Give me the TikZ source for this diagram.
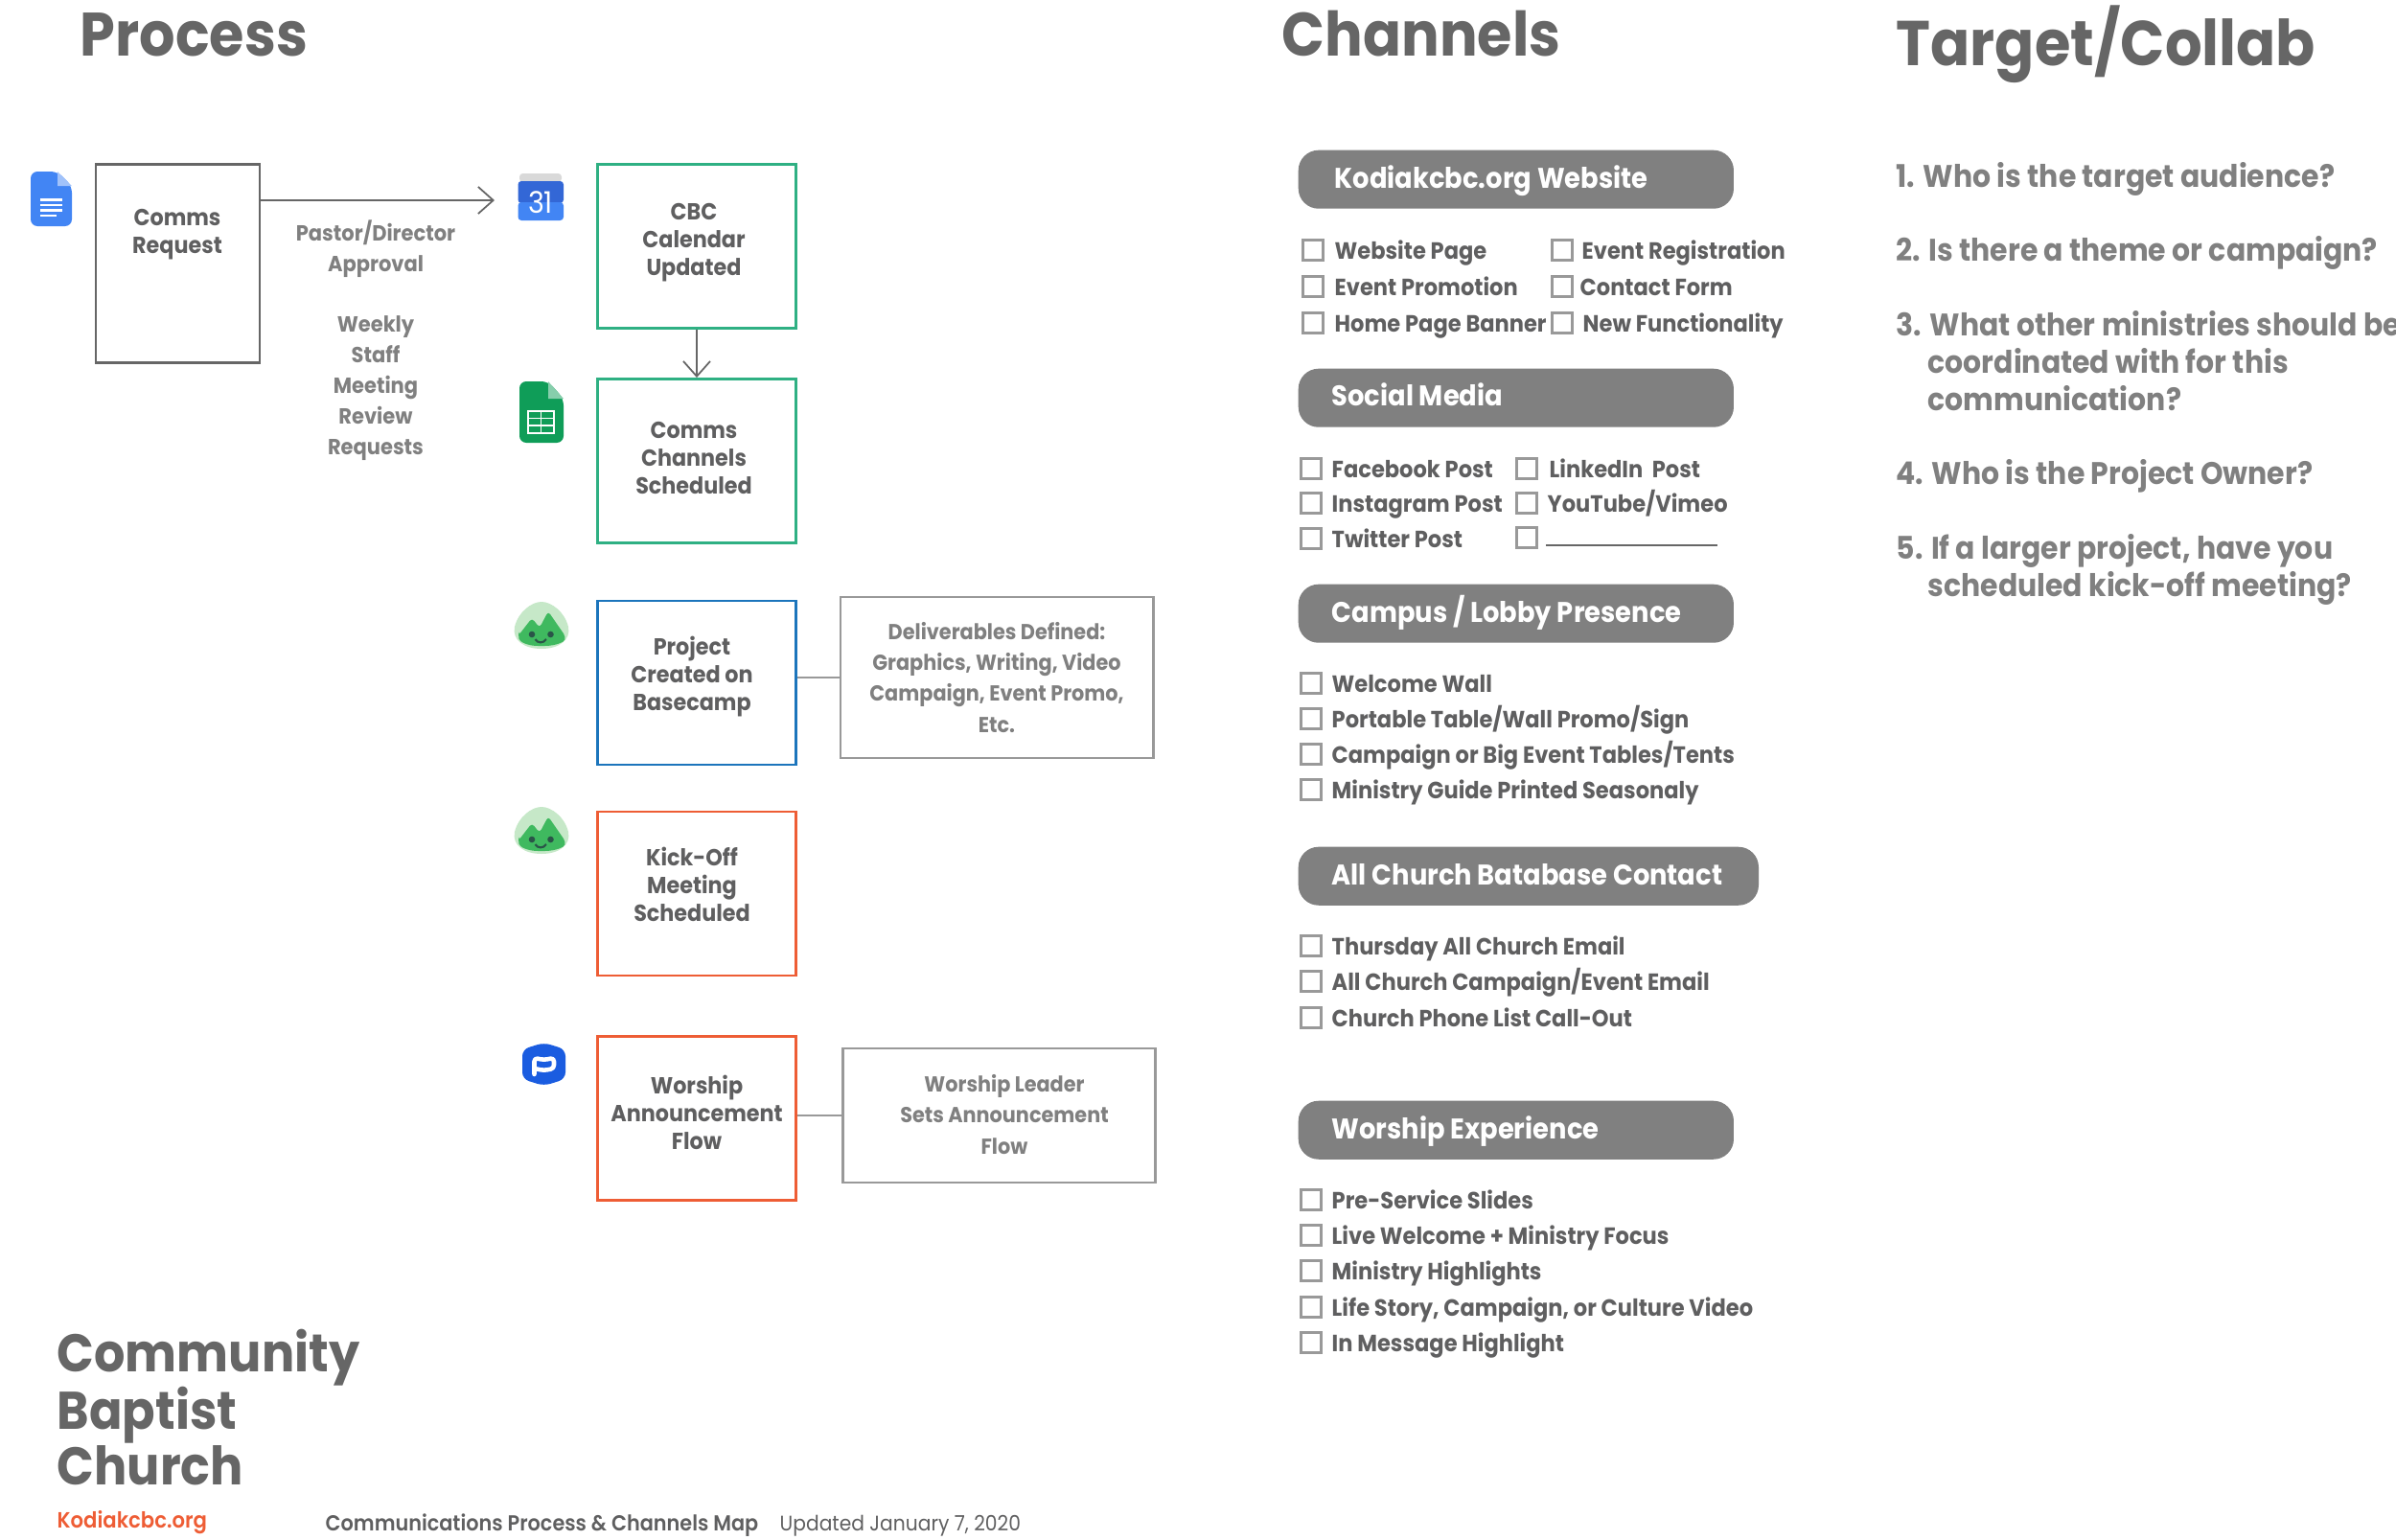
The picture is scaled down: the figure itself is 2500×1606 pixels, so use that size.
\documentclass[tikz,border=0pt]{standalone}
\usepackage{fontspec}
\setmainfont{Poppins}[BoldFont={Poppins SemiBold},FakeStretch=0.92]
\newfontfamily\hvy{Poppins}[BoldFont={Poppins Bold},FakeStretch=0.92]
\usetikzlibrary{arrows.meta}
\definecolor{dk}{HTML}{666666}
\definecolor{md}{HTML}{808080}
\definecolor{lg}{HTML}{999999}
\definecolor{txt}{HTML}{5F5F60}
\definecolor{grn}{HTML}{2FB083}
\definecolor{blu}{HTML}{1C75BC}
\definecolor{org}{HTML}{EE5D35}
\definecolor{bcl}{HTML}{C6E8C8}
\definecolor{bcm}{HTML}{3FB95F}
\definecolor{bcf}{HTML}{2A5548}
\definecolor{gdoc}{HTML}{4285F4}
\definecolor{gdocl}{HTML}{A1C2FA}
\definecolor{gcald}{HTML}{3367D6}
\definecolor{gsh}{HTML}{0F9D58}
\definecolor{gshl}{HTML}{87CEAC}
\definecolor{pcb}{HTML}{1A5CE0}
\newdimen\pxu \pxu=0.28453pt
\newcommand{\fpx}[2]{\fontsize{#1\pxu}{#2\pxu}\selectfont}
\tikzset{
 x=0.01cm,y=-0.01cm,
 boxa/.style={draw=#1,line width=0.8pt,inner sep=0pt,fill=white},
 lab/.style={inner sep=0pt,align=center,text=txt,font=\hvy\fpx{24.2}{29}\bfseries,anchor=center},
 side/.style={inner sep=0pt,align=center,text=md,font=\hvy\fpx{22.8}{32}\bfseries,anchor=center},
 head/.style={inner sep=0pt,anchor=base west,text=dk,font=\hvy\fpx{64}{70}\bfseries},
 pillbox/.style={fill=md,rounded corners=6pt,inner sep=0pt,anchor=north west},
 pilltext/.style={inner sep=0pt,anchor=base west,text=white,font=\hvy\fpx{29.7}{33}\bfseries},
 chk/.style={draw=lg,line width=0.7pt,minimum width=0.21cm,minimum height=0.21cm,inner sep=0pt},
 item/.style={inner sep=0pt,anchor=base west,text=txt,font=\hvy\fpx{24.5}{29}\bfseries},
 tgt/.style={inner sep=0pt,anchor=base west,text=md,font=\hvy\fpx{32.5}{38}\bfseries},
 conn/.style={draw=dk,line width=0.6pt},
 connl/.style={draw=lg,line width=0.7pt},
 tip/.style={-{Straight Barb[length=4.5pt,width=8pt,line width=0.5pt]}},
 bcamp/.pic={
  \fill[bcl] (0,26) .. controls (4,10) and (18,0) .. (28,0) .. controls (38,0) and (52,10) .. (56,26)
     .. controls (59,40) and (46,49) .. (28,49) .. controls (10,49) and (-3,40) .. (0,26) -- cycle;
  \fill[bcm,rounded corners=1pt] (4,35) -- (18,17) -- (26,27) -- (35,10) -- (53,36)
     .. controls (52,42) and (42,46) .. (28,46) .. controls (14,46) and (5,42) .. (4,35) -- cycle;
  \fill[bcf] (18,34) circle (3.3); \fill[bcf] (37.5,34) circle (3.3);
  \draw[bcf,line width=0.6pt] (21.5,39) .. controls (24,43.5) and (30,43.5) .. (33,39);
 }
}
\begin{document}
\begin{tikzpicture}
\useasboundingbox (0,0) rectangle (2500,1606);
% headings
\node[head] (h1) at (83,58) {Process};
\node[head] (h2) at (1337,58) {Channels};
\node[head,font=\hvy\fpx{66}{72}\bfseries] (h3) at (1978,68) {Target/Collab};
% process boxes
\node[boxa=dk,minimum width=1.71cm,minimum height=2.07cm] (req) at (185.5,275) {};
\node[boxa=grn,minimum width=2.07cm,minimum height=1.71cm] (cbc) at (727,257) {};
\node[boxa=grn,minimum width=2.07cm,minimum height=1.71cm] (chn) at (727,481) {};
\node[boxa=blu,minimum width=2.07cm,minimum height=1.71cm] (prj) at (727,712.5) {};
\node[boxa=org,minimum width=2.07cm,minimum height=1.71cm] (kick) at (727,932.5) {};
\node[boxa=org,minimum width=2.07cm,minimum height=1.71cm] (wsh) at (727,1167) {};
\node[boxa=lg,minimum width=3.26cm,minimum height=1.68cm] (del) at (1040,707) {};
\node[boxa=lg,minimum width=3.26cm,minimum height=1.40cm] (wl) at (1042.5,1164) {};
\node[lab] (t1) at (185,245) {Comms\\Request};
\node[lab] (t2) at (724,253) {CBC\\Calendar\\Updated};
\node[lab] (t3) at (724,478) {Comms\\Channels\\Scheduled};
\node[lab] (t4) at (722,706) {Project\\Created on\\Basecamp};
\node[lab] (t5) at (722,923) {Kick-Off\\Meeting\\Scheduled};
\node[lab] (t6) at (727,1161) {Worship\\Announcement\\Flow};
\node[side,font=\hvy\fpx{22.6}{32}\bfseries] (t7) at (1040,707) {Deliverables Defined:\\Graphics, Writing, Video\\Campaign, Event Promo,\\Etc.};
\node[side,font=\hvy\fpx{22.6}{32}\bfseries] (t8) at (1048,1163) {Worship Leader\\Sets Announcement\\Flow};
\node[side] (t9) at (392,260) {Pastor/Director\\Approval};
\node[side] (t10) at (392,405) {Weekly\\Staff\\Meeting\\Review\\Requests};
% connectors
\coordinate (a1) at (516,209);
\draw[conn,tip] (req.east |- a1) -- (a1);
\draw[conn,tip] (cbc.south) -- (chn.north);
\draw[connl] (prj.east |- del.west) -- (del.west);
\draw[connl] (wsh.east |- wl.west) -- (wl.west);
% google docs icon
\begin{scope}[shift={(32,179)}]
 \fill[rounded corners=2pt,fill=gdoc] (0,0) -- (28,0) -- (43,15) -- (43,57) -- (0,57) -- cycle;
 \fill[gdocl] (28,0) -- (43,15) -- (28,15) -- cycle;
 \foreach \yy in {28,33.5,39} \fill[white] (10,\yy) rectangle (33,\yy+2.8);
 \fill[white] (10,44.5) rectangle (27,47.3);
\end{scope}
% calendar icon
\begin{scope}[shift={(540,181)}]
 \fill[gray!30,rounded corners=1pt] (2,0) rectangle (46,9);
 \fill[gcald,rounded corners=1pt] (0.5,8) rectangle (48,31);
 \fill[gdoc,rounded corners=1pt] (0.5,30) rectangle (48,49);
 \node[inner sep=0pt,text=white,font=\fpx{31}{36}] (cal31) at (24,30) {31};
\end{scope}
% sheets icon
\begin{scope}[shift={(542,398)}]
 \fill[rounded corners=2pt,fill=gsh] (0,0) -- (30,0) -- (46,18) -- (46,64) -- (0,64) -- cycle;
 \fill[gshl] (30,0) -- (46,18) -- (30,18) -- cycle;
 \draw[white,line width=0.55pt] (9,31) rectangle (36,54) (9,38.5) -- (36,38.5) (9,46) -- (36,46) (22.5,31) -- (22.5,54);
\end{scope}
% basecamp icons
\pic at (537,628) {bcamp};
\pic at (537,842) {bcamp};
% planning center icon
\begin{scope}[shift={(545,1088)}]
 \fill[pcb,rounded corners=2pt] (22.5,0) -- (45,7) -- (45,38) -- (22.5,45) -- (0,38) -- (0,7) -- cycle;
 \draw[white,line width=1.3pt,line join=round,line cap=round,rounded corners=1pt] (12.5,33) -- (12.5,16) -- (22.5,18) -- (33,16) -- (33,27) -- (22.5,29) -- (12.5,27);
\end{scope}
% pills
\node[pillbox,minimum width=4.54cm,minimum height=0.61cm] (p1) at (1354,156) {};
\node[pillbox,minimum width=4.54cm,minimum height=0.61cm] (p2) at (1354,384) {};
\node[pillbox,minimum width=4.54cm,minimum height=0.61cm] (p3) at (1354,609) {};
\node[pillbox,minimum width=4.80cm,minimum height=0.61cm] (p4) at (1354,883) {};
\node[pillbox,minimum width=4.54cm,minimum height=0.61cm] (p5) at (1354,1148) {};
\node[pilltext] (pt1) at (1392,196) {Kodiakcbc.org Website};
\node[pilltext] (pt2) at (1389,423) {Social Media};
\node[pilltext] (pt3) at (1389,649) {Campus / Lobby Presence};
\node[pilltext] (pt4) at (1389,923) {All Church Batabase Contact};
\node[pilltext] (pt5) at (1389,1188) {Worship Experience};
% checklist
\foreach \yy/\lbl/\xx/\xt in {261/Website Page/1370/1392,299/Event Promotion/1370/1392,337/Home Page Banner/1370/1392,261/Event Registration/1630/1650,299/Contact Form/1630/1648,337/New Functionality/1630/1651,
  489/Facebook Post/1368/1389,525/Instagram Post/1368/1389,562/Twitter Post/1368/1389,489/LinkedIn\ \ Post/1593/1616,525/YouTube\slash Vimeo/1593/1614,
  713/Welcome Wall/1368/1389,750/Portable Table\slash Wall Promo\slash Sign/1368/1389,787/Campaign or Big Event Tables\slash Tents/1368/1389,824/Ministry Guide Printed Seasonaly/1368/1389,
  987/Thursday All Church Email/1368/1389,1024/All Church Campaign\slash Event Email/1368/1389,1062/Church Phone List Call-Out/1368/1389,
  1252/Pre-Service Slides/1368/1389,1289/Live Welcome + Ministry Focus/1368/1389,1326/Ministry Highlights/1368/1389,1364/Life Story{,} Campaign{,} or Culture Video/1368/1389,1401/In Message Highlight/1368/1389}{
  \node[chk] at (\xx,\yy) {};
  \node[item] at (\xt,\yy+9) {\lbl};
}
\node[chk] (c0) at (1593,561) {};
\coordinate (u0) at (1613,569);
\coordinate (u1) at (1792,569);
\draw[dk,line width=0.6pt] (u0) -- (u1);
% target
\node[tgt] (q1) at (1978,195) {1. Who is the target audience?};
\node[tgt] (q2) at (1978,272) {2. Is there a theme or campaign?};
\node[tgt] (q3) at (1978,350) {3. What other ministries should be};
\node[tgt] (q3b) at (2011,389) {coordinated with for this};
\node[tgt] (q3c) at (2011,428) {communication?};
\node[tgt] (q4) at (1978,505) {4. Who is the Project Owner?};
\node[tgt] (q5) at (1978,583) {5. If a larger project, have you};
\node[tgt] (q5b) at (2011,622) {scheduled kick-off meeting?};
% footer
\node[head,font=\hvy\fpx{55.3}{60}\bfseries] (f1) at (59,1431) {Community};
\node[head,font=\hvy\fpx{55.3}{60}\bfseries] (f2) at (59,1491) {Baptist};
\node[head,font=\hvy\fpx{55.3}{60}\bfseries] (f3) at (59,1549) {Church};
\node[inner sep=0pt,anchor=base west,text=org,font=\fpx{23}{28}\bfseries] (f4) at (59,1594) {Kodiakcbc.org};
\node[inner sep=0pt,anchor=base west,text=txt,font=\fpx{22.6}{28}\bfseries] (f5) at (339,1597) {Communications Process \& Channels Map};
\node[inner sep=0pt,anchor=base west,text=txt,font=\fpx{22}{28}] (f6) at (813,1597) {Updated January 7, 2020};
\end{tikzpicture}
\end{document}
